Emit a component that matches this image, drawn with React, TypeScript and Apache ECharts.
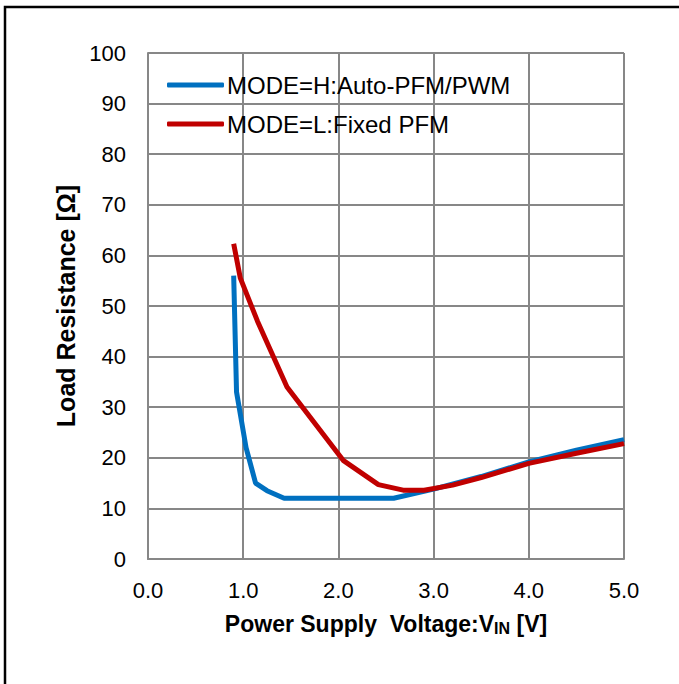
import React, { useEffect, useRef } from "react";
import * as echarts from "echarts";

const xTicks = ["0.0", "1.0", "2.0", "3.0", "4.0", "5.0"];
const seriesNames = ["MODE=H:Auto-PFM/PWM", "MODE=L:Fixed PFM"];
const modeHVin = [0.9, 0.93, 1.03, 1.13, 1.25, 1.43, 2.58, 3.0, 3.5, 4.0, 4.5, 5.0];
const modeHRes = [56, 33, 22, 15, 13.5, 12, 12, 13.8, 16.3, 19.2, 21.5, 23.6];
const modeLVin = [0.9, 0.97, 1.15, 1.46, 2.05, 2.42, 2.68, 2.9, 3.2, 3.5, 4.0, 4.5, 5.0];
const modeLRes = [62.3, 55.5, 47, 34, 19.5, 14.7, 13.6, 13.6, 14.6, 16.1, 18.9, 20.9, 22.8];

const FONT = "'Liberation Sans', Arial, sans-serif";
const GRID = "#878787";

export default function App() {
  const ref = useRef<HTMLDivElement>(null);
  useEffect(() => {
    if (!ref.current) return;
    const chart = echarts.init(ref.current, undefined, { renderer: "svg" });
    chart.setOption({
      animation: false,
      backgroundColor: "#ffffff",
      textStyle: { fontFamily: FONT },
      graphic: [
        {
          type: "rect",
          shape: { x: 5, y: 7, width: 720, height: 720 },
          style: { fill: "none", stroke: "#000", lineWidth: 2.5 },
          silent: true,
          z: 10,
        },
      ],
      grid: { left: 148, top: 53, right: 55, bottom: 125, containLabel: false },
      legend: {
        show: true,
        orient: "vertical",
        left: 162,
        top: 68,
        itemWidth: 57,
        itemHeight: 5,
        itemGap: 15,
        icon: "roundRect",
        textStyle: { fontFamily: FONT, fontSize: 24, color: "#000", padding: [0, 0, 0, -2] },
        data: seriesNames,
      },
      xAxis: {
        type: "value",
        min: 0,
        max: 5,
        interval: 1,
        axisLine: { show: true, lineStyle: { color: GRID, width: 2 } },
        axisTick: { show: false },
        splitLine: { show: true, lineStyle: { color: GRID, width: 2 } },
        axisLabel: {
          margin: 20,
          fontFamily: FONT,
          fontSize: 22,
          color: "#000",
          formatter: (v: number) => xTicks[Math.round(v)] ?? v.toFixed(1),
        },
        name: "Power Supply  Voltage:V{sub|IN} [V]",
        nameLocation: "middle",
        nameGap: 52,
        nameTextStyle: {
          fontFamily: FONT,
          fontSize: 23,
          fontWeight: "bold",
          color: "#000",
          rich: {
            sub: { fontFamily: FONT, fontSize: 16, fontWeight: "bold", color: "#000", verticalAlign: "bottom", padding: [9, 0, 0, 0] },
          },
        },
      },
      yAxis: {
        type: "value",
        min: 0,
        max: 100,
        interval: 10,
        axisLine: { show: true, lineStyle: { color: GRID, width: 2 } },
        axisTick: { show: false },
        splitLine: { show: true, lineStyle: { color: GRID, width: 2 } },
        axisLabel: { margin: 22, fontFamily: FONT, fontSize: 22, color: "#000" },
        name: "Load Resistance [Ω]",
        nameLocation: "middle",
        nameGap: 68,
        nameTextStyle: { fontFamily: FONT, fontSize: 25, fontWeight: "bold", color: "#000" },
      },
      series: [
        {
          name: seriesNames[0],
          type: "line",
          symbol: "none",
          data: modeHVin.map((x, i) => [x, modeHRes[i]]),
          lineStyle: { color: "#0070C0", width: 5 },
          itemStyle: { color: "#0070C0" },
          z: 2,
        },
        {
          name: seriesNames[1],
          type: "line",
          symbol: "none",
          data: modeLVin.map((x, i) => [x, modeLRes[i]]),
          lineStyle: { color: "#C00000", width: 5 },
          itemStyle: { color: "#C00000" },
          z: 3,
        },
      ],
    });
    return () => chart.dispose();
  }, []);
  return (
    <div
      ref={ref}
      style={{ position: "fixed", left: 0, top: 0, width: 679, height: 684, background: "#fff" }}
    />
  );
}
